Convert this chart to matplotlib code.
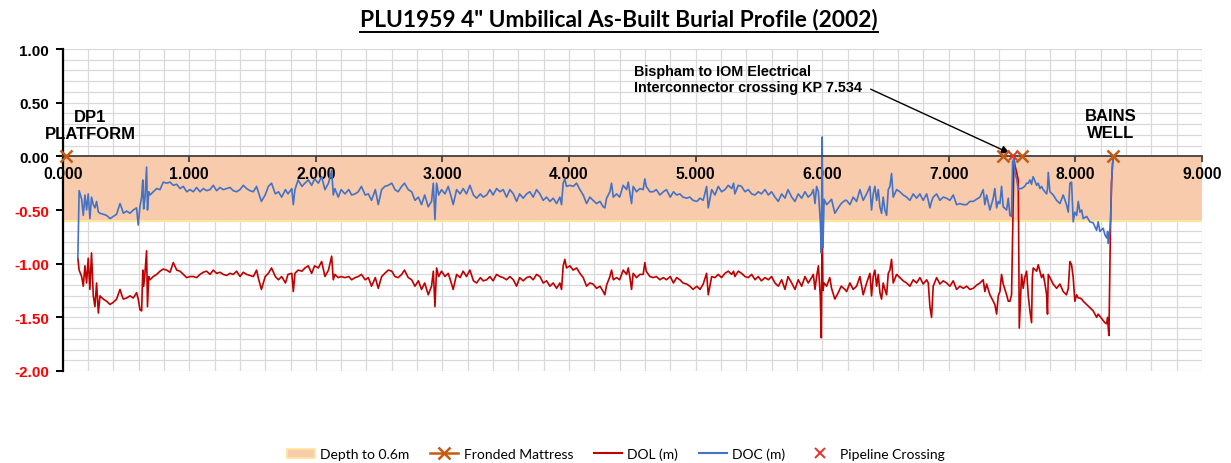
import numpy as np
import matplotlib
matplotlib.use('Agg')
import matplotlib.pyplot as plt
from matplotlib.lines import Line2D
from matplotlib.patches import Patch

# chainage (km) with depth of cover (DOC) and depth of lowering (DOL), metres
km = [
    0.120, 0.130, 0.150, 0.163, 0.176, 0.189, 0.202, 0.215, 0.228, 0.242,
    0.255, 0.268, 0.282, 0.295, 0.320, 0.347, 0.374, 0.400, 0.426, 0.453,
    0.466, 0.479, 0.505, 0.532, 0.558, 0.584, 0.597, 0.611, 0.624, 0.633,
    0.640, 0.650, 0.663, 0.670, 0.680, 0.690,
    0.716, 0.743, 0.769, 0.795, 0.822, 0.848, 0.874, 0.901, 0.927, 0.953,
    0.980, 1.006, 1.032, 1.058, 1.085, 1.111, 1.137, 1.164, 1.190, 1.216,
    1.243, 1.269, 1.295, 1.322, 1.348, 1.374, 1.401, 1.427, 1.453, 1.480,
    1.506, 1.532, 1.545,
    1.570, 1.600, 1.625, 1.650, 1.680, 1.705, 1.730, 1.760, 1.780, 1.810,
    1.822, 1.835, 1.860, 1.890, 1.914, 1.940, 1.967, 1.990, 2.020, 2.046,
    2.072, 2.100, 2.125, 2.138, 2.150, 2.177, 2.200, 2.230, 2.260, 2.283,
    2.310, 2.335, 2.360, 2.390, 2.415, 2.440, 2.470, 2.493, 2.520, 2.545,
    2.572, 2.600, 2.625, 2.650, 2.678, 2.700, 2.730, 2.757, 2.783, 2.810,
    2.835, 2.860, 2.888, 2.914, 2.928, 2.941, 2.954, 2.970, 2.993, 3.020,
    3.046, 3.070,
    3.085, 3.112, 3.140, 3.164, 3.190, 3.217, 3.245, 3.270, 3.300, 3.322,
    3.350, 3.375, 3.400, 3.428, 3.455, 3.480, 3.507, 3.533, 3.560, 3.586,
    3.610, 3.638, 3.665, 3.691, 3.717, 3.744, 3.770, 3.796, 3.823, 3.849,
    3.875, 3.902, 3.928, 3.941, 3.954, 3.967, 3.980, 4.007, 4.033, 4.060,
    4.086, 4.112, 4.139, 4.165, 4.190, 4.218, 4.245, 4.270, 4.283, 4.297,
    4.323, 4.336, 4.350, 4.376, 4.400, 4.428, 4.455, 4.468, 4.480, 4.494,
    4.507, 4.533, 4.560, 4.586, 4.599, 4.610, 4.639,
    4.665, 4.690, 4.718, 4.745, 4.770, 4.800, 4.825, 4.850, 4.876, 4.900,
    4.930, 4.955, 4.980, 5.010, 5.035, 5.060, 5.087, 5.100, 5.127, 5.153,
    5.179, 5.205, 5.232, 5.258, 5.285, 5.300, 5.310, 5.337, 5.363, 5.390,
    5.416, 5.443, 5.470, 5.495, 5.520, 5.548, 5.575, 5.600, 5.627, 5.653,
    5.680, 5.706, 5.730, 5.759, 5.785, 5.811, 5.838, 5.864, 5.890, 5.916,
    5.930, 5.943, 5.956, 5.970, 5.985, 5.993, 6.000, 6.006, 6.015, 6.035,
    6.060, 6.074, 6.100, 6.127, 6.150, 6.180,
    6.193, 6.219, 6.245, 6.272, 6.298, 6.324, 6.351, 6.377, 6.390, 6.403,
    6.416, 6.430, 6.443, 6.456, 6.469, 6.482, 6.495, 6.509, 6.522, 6.535,
    6.548, 6.561, 6.588, 6.614, 6.640, 6.667, 6.693, 6.719, 6.746, 6.772,
    6.798, 6.825, 6.838, 6.851, 6.864, 6.877, 6.904, 6.930, 6.956, 6.983,
    7.009, 7.035, 7.062, 7.088,
    7.115, 7.141, 7.167, 7.193, 7.220, 7.246, 7.272, 7.285, 7.299, 7.325,
    7.351, 7.364, 7.378, 7.391, 7.404, 7.417, 7.430, 7.457, 7.470, 7.483,
    7.496, 7.504, 7.515, 7.522, 7.536, 7.549, 7.557, 7.575, 7.588, 7.600,
    7.615, 7.628, 7.641, 7.654, 7.660, 7.667, 7.694, 7.707, 7.720, 7.733,
    7.746, 7.760, 7.773, 7.780, 7.786, 7.799, 7.825, 7.852, 7.878, 7.904,
    7.930, 7.944, 7.957, 7.970, 7.983, 7.996, 8.010, 8.023, 8.036, 8.050,
    8.062, 8.089, 8.115, 8.141, 8.168, 8.180, 8.194, 8.220, 8.233, 8.247,
    8.255, 8.260, 8.265, 8.278, 8.286, 8.294, 8.300,
]

doc = [
    -0.95, -0.32, -0.40, -0.55, -0.36, -0.50, -0.35, -0.58, -0.38, -0.45,
    -0.48, -0.42, -0.52, -0.53, -0.54, -0.55, -0.58, -0.56, -0.54, -0.44,
    -0.48, -0.53, -0.51, -0.53, -0.50, -0.48, -0.64, -0.46, -0.38, -0.22,
    -0.49, -0.39, -0.10, -0.50, -0.33, -0.36,
    -0.33, -0.30, -0.31, -0.24, -0.25, -0.24, -0.27, -0.26, -0.30, -0.28,
    -0.33, -0.31, -0.33, -0.29, -0.33, -0.30, -0.32, -0.31, -0.27, -0.32,
    -0.29, -0.31, -0.30, -0.29, -0.32, -0.33, -0.31, -0.27, -0.30, -0.32,
    -0.33, -0.28, -0.33,
    -0.42, -0.36, -0.28, -0.25, -0.35, -0.33, -0.38, -0.31, -0.35, -0.30,
    -0.45, -0.31, -0.22, -0.28, -0.25, -0.22, -0.27, -0.21, -0.25, -0.19,
    -0.31, -0.25, -0.13, -0.36, -0.30, -0.38, -0.31, -0.35, -0.31, -0.36,
    -0.35, -0.33, -0.28, -0.36, -0.35, -0.41, -0.31, -0.45, -0.31, -0.28,
    -0.27, -0.25, -0.31, -0.33, -0.28, -0.25, -0.31, -0.33, -0.41, -0.38,
    -0.45, -0.36, -0.47, -0.42, -0.25, -0.59, -0.25, -0.36, -0.31, -0.35,
    -0.28, -0.38,
    -0.45, -0.31, -0.35, -0.30, -0.35, -0.27, -0.36, -0.39, -0.35, -0.38,
    -0.36, -0.31, -0.36, -0.30, -0.33, -0.31, -0.38, -0.31, -0.35, -0.42,
    -0.35, -0.39, -0.35, -0.33, -0.38, -0.31, -0.35, -0.41, -0.38, -0.42,
    -0.39, -0.44, -0.38, -0.45, -0.25, -0.21, -0.28, -0.27, -0.28, -0.25,
    -0.31, -0.36, -0.44, -0.38, -0.41, -0.44, -0.42, -0.47, -0.48, -0.39,
    -0.33, -0.25, -0.38, -0.35, -0.38, -0.27, -0.31, -0.24, -0.33, -0.44,
    -0.28, -0.33, -0.30, -0.31, -0.21, -0.28, -0.33,
    -0.33, -0.31, -0.36, -0.33, -0.31, -0.38, -0.33, -0.36, -0.35, -0.38,
    -0.39, -0.38, -0.41, -0.42, -0.39, -0.41, -0.28, -0.48, -0.31, -0.36,
    -0.28, -0.33, -0.31, -0.27, -0.30, -0.25, -0.35, -0.27, -0.28, -0.33,
    -0.31, -0.35, -0.36, -0.33, -0.35, -0.31, -0.36, -0.33, -0.38, -0.42,
    -0.35, -0.39, -0.31, -0.38, -0.42, -0.35, -0.39, -0.33, -0.38, -0.35,
    -0.31, -0.44, -0.28, -0.33, -0.60, -0.90, 0.18, -0.85, -0.40, -0.45,
    -0.42, -0.40, -0.53, -0.48, -0.44, -0.41,
    -0.41, -0.45, -0.38, -0.42, -0.31, -0.41, -0.35, -0.28, -0.50, -0.35,
    -0.28, -0.41, -0.31, -0.47, -0.53, -0.38, -0.50, -0.55, -0.31, -0.28,
    -0.16, -0.38, -0.31, -0.33, -0.36, -0.38, -0.41, -0.35, -0.39, -0.35,
    -0.41, -0.35, -0.41, -0.48, -0.42, -0.38, -0.35, -0.41, -0.38, -0.39,
    -0.41, -0.36, -0.45, -0.44,
    -0.45, -0.45, -0.42, -0.42, -0.40, -0.38, -0.31, -0.45, -0.36, -0.50,
    -0.39, -0.30, -0.48, -0.42, -0.44, -0.28, -0.47, -0.50, -0.39, -0.55,
    -0.56, -0.05, -0.02, -0.15, -0.21, -0.31, -0.30, -0.30, -0.29, -0.28,
    -0.25, -0.25, -0.22, -0.26, -0.22, -0.19, -0.27, -0.25, -0.30, -0.28,
    -0.31, -0.33, -0.35, -0.30, -0.15, -0.33, -0.36, -0.41, -0.44, -0.36,
    -0.45, -0.52, -0.25, -0.24, -0.61, -0.52, -0.55, -0.42, -0.52, -0.50,
    -0.58, -0.56, -0.61, -0.62, -0.69, -0.61, -0.70, -0.67, -0.73, -0.76,
    -0.70, -0.81, -0.78, -0.61, -0.24, -0.07, 0.00,
]

dol = [
    -0.95, -1.06, -1.12, -1.21, -1.02, -1.18, -0.95, -1.24, -0.90, -1.30,
    -1.40, -1.18, -1.46, -1.30, -1.33, -1.35, -1.38, -1.36, -1.33, -1.24,
    -1.29, -1.33, -1.32, -1.30, -1.32, -1.27, -1.33, -1.43, -1.44, -1.06,
    -1.21, -1.09, -0.88, -1.40, -1.12, -1.15,
    -1.12, -1.10, -1.07, -1.05, -1.06, -1.08, -0.99, -1.06, -1.07, -1.10,
    -1.13, -1.12, -1.12, -1.13, -1.10, -1.08, -1.07, -1.10, -1.06, -1.09,
    -1.08, -1.10, -1.11, -1.09, -1.10, -1.07, -1.12, -1.08, -1.10, -1.11,
    -1.12, -1.06, -1.13,
    -1.24, -1.12, -1.09, -1.04, -1.12, -1.15, -1.12, -1.18, -1.10, -1.09,
    -1.26, -1.09, -1.06, -1.07, -1.04, -1.02, -1.09, -1.02, -1.04, -0.98,
    -1.12, -1.06, -0.93, -1.15, -1.10, -1.13, -1.12, -1.13, -1.12, -1.15,
    -1.13, -1.12, -1.10, -1.15, -1.13, -1.21, -1.13, -1.23, -1.12, -1.09,
    -1.06, -1.07, -1.12, -1.13, -1.10, -1.06, -1.13, -1.15, -1.21, -1.16,
    -1.24, -1.18, -1.29, -1.21, -1.07, -1.40, -1.04, -1.12, -1.07, -1.12,
    -1.09, -1.18,
    -1.24, -1.10, -1.13, -1.07, -1.12, -1.06, -1.16, -1.18, -1.13, -1.16,
    -1.15, -1.12, -1.16, -1.10, -1.12, -1.13, -1.15, -1.12, -1.15, -1.21,
    -1.13, -1.16, -1.13, -1.12, -1.15, -1.10, -1.12, -1.18, -1.16, -1.21,
    -1.18, -1.23, -1.18, -1.24, -1.02, -0.96, -1.04, -1.02, -1.06, -1.04,
    -1.09, -1.13, -1.21, -1.18, -1.19, -1.23, -1.21, -1.26, -1.29, -1.20,
    -1.12, -1.06, -1.15, -1.13, -1.15, -1.06, -1.10, -1.04, -1.12, -1.24,
    -1.09, -1.13, -1.10, -1.10, -0.99, -1.07, -1.12,
    -1.13, -1.12, -1.15, -1.13, -1.15, -1.12, -1.18, -1.13, -1.15, -1.18,
    -1.19, -1.21, -1.24, -1.21, -1.24, -1.19, -1.09, -1.29, -1.12, -1.13,
    -1.10, -1.13, -1.09, -1.07, -1.10, -1.07, -1.12, -1.07, -1.09, -1.12,
    -1.13, -1.10, -1.15, -1.12, -1.16, -1.13, -1.15, -1.12, -1.18, -1.21,
    -1.15, -1.24, -1.12, -1.18, -1.24, -1.15, -1.21, -1.12, -1.18, -1.13,
    -1.10, -1.24, -1.12, -1.02, -1.30, -1.69, -0.61, -1.25, -1.18, -1.21,
    -1.13, -1.23, -1.33, -1.27, -1.21, -1.24,
    -1.26, -1.18, -1.24, -1.21, -1.12, -1.29, -1.18, -1.09, -1.30, -1.12,
    -1.06, -1.21, -1.10, -1.27, -1.33, -1.18, -1.24, -1.29, -1.09, -1.06,
    -0.96, -1.18, -1.10, -1.13, -1.16, -1.18, -1.21, -1.15, -1.18, -1.13,
    -1.19, -1.15, -1.18, -1.40, -1.50, -1.21, -1.13, -1.19, -1.16, -1.18,
    -1.21, -1.16, -1.24, -1.21,
    -1.23, -1.21, -1.24, -1.23, -1.20, -1.18, -1.15, -1.26, -1.19, -1.29,
    -1.35, -1.38, -1.47, -1.30, -1.26, -1.10, -1.19, -1.29, -1.35, -1.35,
    -1.29, -0.76, -0.02, -0.08, -0.15, -0.22, -1.60, -1.10, -1.23, -1.13,
    -1.07, -1.30, -1.44, -1.55, -1.13, -1.04, -1.07, -1.01, -1.07, -1.13,
    -1.10, -1.19, -1.29, -1.47, -1.10, -1.13, -1.19, -1.23, -1.19, -1.26,
    -1.29, -1.23, -0.98, -1.01, -1.13, -1.35, -1.29, -1.32, -1.32, -1.33,
    -1.35, -1.38, -1.41, -1.44, -1.50, -1.47, -1.49, -1.53, -1.55, -1.56,
    -1.50, -1.60, -1.67, -0.61, -0.24, -0.07, 0.00,
]

mattress_km = [0.03, 7.43, 7.575, 8.30]
mattress_y = [0.0, 0.0, 0.0, 0.0]
crossing_km = [7.51]
crossing_y = [0.0]
band_depth = -0.6
kp_range = [0.0, 9.0]

C_BAND = '#F8CBAD'
C_BAND_EDGE = '#FFE699'
C_DOL = '#C00000'
C_DOC = '#4472C4'
C_MAT = '#C55A11'
C_CROSS = '#E8312A'

fig = plt.figure(figsize=(12.31, 4.64), dpi=100)
ax = fig.add_axes([0.0509, 0.1983, 0.9255, 0.6939])

x_major = np.arange(0, 9.01, 1)
x_minor = np.arange(0, 9.01, 0.2)
y_major = np.arange(-2, 1.01, 0.5)
y_minor = np.arange(-2, 1.01, 0.1)

ax.set_xlim(0, 9)
ax.set_ylim(-2, 1)

# gridlines drawn by hand so that the shaded band sits over them but under the tick labels
ax.vlines(x_minor, -2, 1, color='#D9D9D9', lw=0.9, zorder=0.2)
ax.hlines(y_minor, 0, 9, color='#D9D9D9', lw=0.9, zorder=0.2)

ax.fill_between(kp_range, band_depth, 0, facecolor=C_BAND, edgecolor='none', zorder=0.4)
ax.axhline(band_depth, color=C_BAND_EDGE, lw=1.5, zorder=0.5)

ax.plot(km, dol, color=C_DOL, lw=1.2, zorder=2)
ax.plot(km, doc, color=C_DOC, lw=1.2, zorder=2.1)
ax.plot(mattress_km, mattress_y, ls='none', marker='x', ms=8, mew=1.8,
        color=C_MAT, zorder=5, clip_on=False)
ax.plot(crossing_km, crossing_y, ls='none', marker='x', ms=6, mew=1.4,
        color=C_CROSS, zorder=5.5)

ax.set_xticks(x_major)
ax.set_yticks(y_major)

ax.spines['top'].set_visible(False)
ax.spines['right'].set_visible(False)
ax.spines['bottom'].set_position(('data', 0))
ax.spines['bottom'].set_color('#404040')
ax.spines['bottom'].set_linewidth(1.3)
ax.spines['left'].set_linewidth(1.6)

ax.tick_params(axis='x', which='major', direction='out', length=4, width=1.3,
               color='#404040', pad=3)
ax.tick_params(axis='y', which='major', direction='out', length=5, width=1.4, pad=5)

ax.set_xticklabels([f'{v:.3f}' for v in x_major],
                   fontsize=11.3, fontweight='bold', family='Liberation Sans')
ylabs = ax.set_yticklabels([f'{v:.2f}' for v in y_major],
                           fontsize=11, fontweight='bold', family='Liberation Sans')
for lab, v in zip(ylabs, y_major):
    lab.set_color('#FF0000' if v < 0 else 'black')

ax.text(0.22, 0.29, 'DP1\nPLATFORM', ha='center', va='center', fontsize=12,
        fontweight='bold', family='Liberation Sans', linespacing=1.15)
ax.text(8.28, 0.30, 'BAINS\nWELL', ha='center', va='center', fontsize=12,
        fontweight='bold', family='Liberation Sans', linespacing=1.15)

ax.annotate('Bispham to IOM Electrical\nInterconnector crossing KP 7.534',
            xy=(7.48, 0.03), xytext=(4.51, 0.72), ha='left', va='center',
            fontsize=10.4, fontweight='bold', family='Liberation Sans', linespacing=1.15,
            arrowprops=dict(arrowstyle='-|>', color='black', lw=1.0,
                            relpos=(1.0, 0.3), shrinkA=5, shrinkB=0,
                            mutation_scale=12))

title = fig.text(0.503, 0.957, 'PLU1959 4" Umbilical As-Built Burial Profile (2002)',
                 ha='center', va='center', fontsize=16.4, fontweight='bold', family='Lato')
fig.canvas.draw()
bb = title.get_window_extent().transformed(fig.transFigure.inverted())
fig.add_artist(Line2D([bb.x0, bb.x1], [bb.y0 - 0.004, bb.y0 - 0.004],
                      color='black', lw=1.4, transform=fig.transFigure))

handles = [
    Patch(facecolor=C_BAND, edgecolor=C_BAND_EDGE, lw=1.2),
    Line2D([], [], color=C_MAT, marker='x', ms=8, mew=1.8, lw=1.8),
    Line2D([], [], color=C_DOL, lw=1.5),
    Line2D([], [], color=C_DOC, lw=1.5),
    Line2D([], [], color=C_CROSS, marker='x', ls='none', ms=7, mew=1.4),
]
labels = ['Depth to 0.6m', 'Fronded Mattress', 'DOL (m)', 'DOC (m)', 'Pipeline Crossing']
fig.legend(handles, labels, loc='lower center', bbox_to_anchor=(0.5, -0.021), ncol=5,
           frameon=False, prop={'family': 'Lato', 'size': 10},
           columnspacing=1.5, handlelength=2.0, handletextpad=0.4)

fig.savefig('out.png', dpi=100)
